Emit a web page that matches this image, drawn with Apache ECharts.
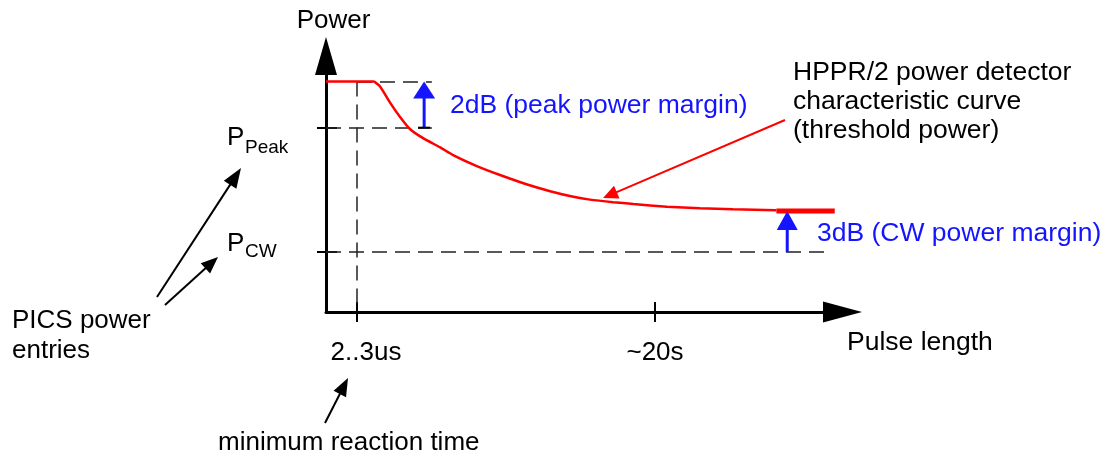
<!DOCTYPE html>
<html>
<head>
<meta charset="utf-8">
<script src="https://cdn.jsdelivr.net/npm/echarts@6/dist/echarts.min.js"></script>
<style>
  html, body { margin: 0; background: #fff; }
  #main { width: 1120px; height: 458px; }
</style>
</head>
<body>
<div id="main"></div>
<script>
// schematic units: x = pulse length, y = power (0..100 on both axes)
var curveX = [0, 9.2, 10.5, 12.4, 14.3, 16.3, 18.8, 22.1, 24.6, 29.2, 33.7, 38.8, 43.4, 47.9, 51.1, 55.6, 59.5, 66.0, 72.4, 78.8, 87.2];
var curveY = [90, 90, 88.0, 81.8, 76.3, 71.4, 67.9, 64.3, 61.3, 57.0, 53.5, 49.9, 47.2, 45.0, 43.9, 42.9, 42.2, 41.1, 40.5, 40.1, 39.7];
// CW plateau of the detector curve
var cwX = [87.2, 98.5];
var cwY = [39.5, 39.5];

var xTicks = [6, 63.7];
var xTickLabels = ['2..3us', '~20s'];
var yTicks = [72, 23.4];          // P_Peak, P_CW
var topLevel = 90;                // detector level at short pulses
var peakMarginX = 19;             // 2dB arrow
var cwMarginX = 89.3;             // 3dB arrow
var guideEndX = 20.5;
var cwGuideEndX = 96.6;

var FONT = '"Liberation Sans", Arial, sans-serif';
var BLUE = '#1414ff';
var RED = '#ff0000';
var INK = '#000';

var chart = echarts.init(document.getElementById('main'));

function pairs(xs, ys) {
  return xs.map(function (x, i) { return [x, ys[i]]; });
}

var option = {
  animation: false,
  grid: { left: 326, top: 56, right: 277.5, bottom: 146, containLabel: false, outerBoundsMode: 'none' },
  xAxis: [{
    type: 'value', min: 0, max: 100,
    axisLine: { onZero: false, symbol: ['none', 'triangle'], symbolSize: [21, 39], lineStyle: { color: INK, width: 3 } },
    axisTick: { show: true, length: 10, customValues: xTicks, lineStyle: { color: INK, width: 2 } },
    axisLabel: {
      customValues: xTicks, margin: 28,
      formatter: function (v) {
        var i = xTicks.indexOf(v);
        return i === 0 ? '{s|' + xTickLabels[0] + '}' : '{n|' + xTickLabels[i] + '}';
      },
      rich: {
        s: { fontFamily: FONT, fontSize: 26, color: INK, padding: [0, 0, 0, 18] },
        n: { fontFamily: FONT, fontSize: 26, color: INK }
      }
    },
    splitLine: { show: false }
  }, {
    type: 'value', min: 0, max: 100, position: 'bottom',
    axisLine: { show: false, onZero: false },
    axisTick: { show: true, inside: true, length: 10, customValues: xTicks, lineStyle: { color: INK, width: 2 } },
    axisLabel: { show: false },
    splitLine: { show: false }
  }],
  yAxis: [{
    type: 'value', min: 0, max: 100,
    name: 'Power', nameLocation: 'end', nameGap: 22, nameMoveOverlap: false,
    nameTextStyle: { fontFamily: FONT, fontSize: 26, color: INK, padding: [0, 0, 0, 15] },
    axisLine: { onZero: false, symbol: ['none', 'triangle'], symbolSize: [22, 38], lineStyle: { color: INK, width: 3 } },
    axisTick: { show: true, length: 9, customValues: yTicks, lineStyle: { color: INK, width: 2 } },
    axisLabel: { show: false },
    splitLine: { show: false }
  }, {
    type: 'value', min: 0, max: 100, position: 'left',
    axisLine: { show: false, onZero: false },
    axisTick: { show: true, inside: true, length: 11, customValues: yTicks, lineStyle: { color: INK, width: 2 } },
    axisLabel: { show: false },
    splitLine: { show: false }
  }],
  series: [{
    type: 'line', name: 'threshold power',
    data: pairs(curveX, curveY),
    symbol: 'none', smooth: 0.15, silent: true, clip: false, z: 5,
    lineStyle: { color: RED, width: 2.5 },
    markLine: {
      silent: true, animation: false, symbol: ['none', 'none'],
      label: { show: false }, emphasis: { disabled: true },
      lineStyle: { type: [15, 8], color: '#222', width: 1.5 },
      data: [
        [{ coord: [xTicks[0], topLevel] }, { coord: [guideEndX, topLevel] }],
        [{ coord: [0, yTicks[0]] }, { coord: [guideEndX, yTicks[0]] }],
        [{ coord: [0, yTicks[1]] }, { coord: [cwGuideEndX, yTicks[1]] }],
        [{ coord: [xTicks[0], topLevel] }, { coord: [xTicks[0], 0] }]
      ]
    }
  }, {
    type: 'line', name: 'CW level',
    data: pairs(cwX, cwY),
    symbol: 'none', silent: true, clip: false, z: 5,
    lineStyle: { color: RED, width: 5 }
  }]
};

chart.setOption(option);

function arrow(p0, p1, color, lw, hl, hw) {
  var dx = p1[0] - p0[0], dy = p1[1] - p0[1];
  var len = Math.sqrt(dx * dx + dy * dy);
  var ux = dx / len, uy = dy / len;
  var bx = p1[0] - ux * hl, by = p1[1] - uy * hl;
  return [{
    type: 'line', silent: true, z: 10,
    shape: { x1: p0[0], y1: p0[1], x2: bx + ux * 2, y2: by + uy * 2 },
    style: { stroke: color, lineWidth: lw }
  }, {
    type: 'polygon', silent: true, z: 10,
    shape: { points: [[p1[0], p1[1]], [bx - uy * hw / 2, by + ux * hw / 2], [bx + uy * hw / 2, by - ux * hw / 2]] },
    style: { fill: color }
  }];
}

function text(str, x, y, size, color, va, lh) {
  return {
    type: 'text', x: x, y: y, silent: true, z: 10,
    style: { text: str, fontFamily: FONT, fontSize: size, fill: color, verticalAlign: va || 'middle', lineHeight: lh }
  };
}

function pix(x, y) {
  return chart.convertToPixel({ xAxisIndex: 0, yAxisIndex: 0 }, [x, y]);
}

var pkLow = pix(peakMarginX, yTicks[0]);
var pkTop = pix(peakMarginX, topLevel);
var cwLow = pix(cwMarginX, yTicks[1]);
var cwTop = pix(cwMarginX, cwY[0]);

var g = [];
g = g.concat(arrow(pkLow, pkTop, BLUE, 3, 17, 22));
g.push({ type: 'line', silent: true, z: 10, shape: { x1: pkLow[0] - 6, y1: pkLow[1], x2: pkLow[0] + 6, y2: pkLow[1] }, style: { stroke: INK, lineWidth: 2 } });
g = g.concat(arrow(cwLow, cwTop, BLUE, 3, 19, 21));
g = g.concat(arrow([785, 120], [603, 198], RED, 2, 15, 14));
g = g.concat(arrow([157, 297], [241, 168], INK, 2, 20, 15));
g = g.concat(arrow([165, 305], [218, 257], INK, 2, 17, 14));
g = g.concat(arrow([325, 423], [348, 378], INK, 2, 18, 14));

g.push(text('2dB (peak power margin)', 450, 106, 26.5, BLUE));
g.push(text('3dB (CW power margin)', 817, 234, 26.5, BLUE));
g.push(text('HPPR/2 power detector\ncharacteristic curve\n(threshold power)', 793, 58.5, 26.5, INK, 'top', 29));
g.push(text('PICS power\nentries', 12, 306, 26, INK, 'top', 30));
g.push(text('minimum reaction time', 218, 443, 26, INK));
g.push(text('Pulse length', 847, 343, 26.5, INK));
g.push(text('P', 227, 138, 26, INK));
g.push(text('Peak', 245, 147.4, 19, INK));
g.push(text('P', 227, 244, 26, INK));
g.push(text('CW', 245, 251.4, 19, INK));

chart.setOption({ graphic: g });
</script>
</body>
</html>
